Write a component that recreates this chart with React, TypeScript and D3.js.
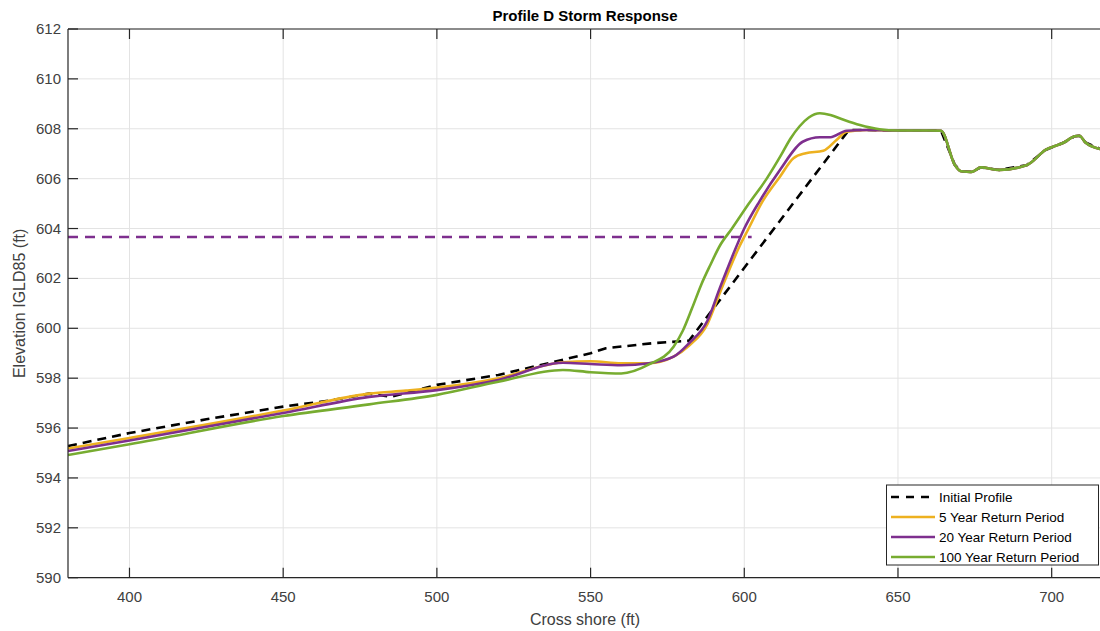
import React from "react";
import * as d3 from "d3";

const xTicks = [400, 450, 500, 550, 600, 650, 700];
const yTicks = [590, 592, 594, 596, 598, 600, 602, 604, 606, 608, 610, 612];

const tailX = [640, 650, 660, 664, 668.5, 670.5, 674, 677, 683, 692, 698, 704, 707.5, 709, 711, 716];
const tailY = [607.95, 607.93, 607.93, 607.92, 606.55, 606.3, 606.27, 606.45, 606.35, 606.55, 607.15, 607.45, 607.7, 607.72, 607.45, 607.18];

const initialX = [380, 400, 425, 450, 465, 478, 485, 500, 520, 550, 555, 570, 582, 634];
const initialY = [595.28, 595.8, 596.35, 596.86, 597.1, 597.38, 597.25, 597.73, 598.13, 599.0, 599.2, 599.4, 599.5, 607.95];

const fiveX = [380, 400, 450, 478, 490, 500, 520, 541, 550, 560, 569, 577, 582, 588, 592, 598.5, 601, 606, 611.6, 616, 620, 625.7, 630, 633.3];
const fiveY = [595.18, 595.6, 596.7, 597.38, 597.5, 597.62, 598.0, 598.64, 598.68, 598.6, 598.6, 598.86, 599.3, 600.17, 601.4, 603.3, 603.9, 605.1, 606.08, 606.82, 607.02, 607.12, 607.55, 607.88];

const twentyX = [380, 400, 450, 478, 500, 520, 541, 550, 560, 569, 577, 582, 588, 592, 596, 600, 605, 611.6, 619, 624.6, 628, 633.3];
const twentyY = [595.08, 595.5, 596.6, 597.25, 597.52, 597.93, 598.62, 598.57, 598.52, 598.6, 598.86, 599.4, 600.3, 601.6, 602.85, 604.0, 605.1, 606.35, 607.48, 607.66, 607.66, 607.92];

const hundredX = [380, 400, 450, 478, 500, 520, 541, 550, 560, 569, 577, 580, 583, 586, 589, 592, 596, 601.5, 607.3, 612, 615, 618, 621, 624.6, 628, 631, 637.6, 644];
const hundredY = [594.92, 595.35, 596.48, 596.95, 597.33, 597.86, 598.33, 598.24, 598.19, 598.55, 599.26, 599.9, 600.8, 601.75, 602.55, 603.3, 604.0, 605.0, 606.0, 606.95, 607.6, 608.1, 608.45, 608.62, 608.55, 608.42, 608.15, 607.98];

const waterLevelX = [380, 602.4];
const waterLevelY = 603.66;

const legendLabels = ["Initial Profile", "5 Year Return Period", "20 Year Return Period", "100 Year Return Period"];
const seriesColors = ["#000000", "#EDB120", "#7E2F8E", "#77AC30"];

const W = 1100, H = 631;
const left = 68, right = 1102, top = 29, bottom = 577.7;
const font = "'Liberation Sans', Arial, Helvetica, sans-serif";

function pts(xs: number[], ys: number[]) {
  return xs.map((x, i) => [x, ys[i]] as [number, number]);
}

export default function App() {
  const x = d3.scaleLinear().domain([380, 380 + (right - left) / 3.074]).range([left, right]);
  const y = d3.scaleLinear().domain([590, 612]).range([bottom, top]);

  const smooth = d3.line<[number, number]>().x(d => x(d[0])).y(d => y(d[1])).curve(d3.curveMonotoneX);
  const straight = d3.line<[number, number]>().x(d => x(d[0])).y(d => y(d[1]));

  const tail = pts(tailX, tailY);
  const initial = pts(initialX, initialY).concat(tail);
  const five = pts(fiveX, fiveY).concat(tail);
  const twenty = pts(twentyX, twentyY).concat(tail);
  const hundred = pts(hundredX, hundredY).concat(tail.filter(p => p[0] >= 650));

  const axisColor = "#262626";
  const textColor = "#404040";

  return (
    <svg width={W} height={H} style={{ position: "absolute", left: 0, top: 0, background: "#fff" }}>
      <defs>
        <clipPath id="plot">
          <rect x={left} y={top} width={right - left} height={bottom - top} />
        </clipPath>
      </defs>
      <rect x={0} y={0} width={W} height={H} fill="#fff" />
      {xTicks.map(t => (
        <line key={"gx" + t} x1={x(t)} x2={x(t)} y1={top} y2={bottom} stroke="#e3e3e3" strokeWidth={1} />
      ))}
      {yTicks.map(t => (
        <line key={"gy" + t} x1={left} x2={right} y1={y(t)} y2={y(t)} stroke="#e3e3e3" strokeWidth={1} />
      ))}
      <g clipPath="url(#plot)" fill="none" strokeLinejoin="round">
        <line x1={x(waterLevelX[0])} x2={x(waterLevelX[1])} y1={y(waterLevelY)} y2={y(waterLevelY)}
          stroke="#7E2F8E" strokeWidth={2.6} strokeDasharray="10,7" />
        <path d={straight(initial) || ""} stroke="#000" strokeWidth={2.6} strokeDasharray="9,6" />
        <path d={smooth(five) || ""} stroke={seriesColors[1]} strokeWidth={2.6} />
        <path d={smooth(twenty) || ""} stroke={seriesColors[2]} strokeWidth={2.6} />
        <path d={smooth(hundred) || ""} stroke={seriesColors[3]} strokeWidth={2.6} />
      </g>
      <line x1={left} x2={right} y1={top} y2={top} stroke={axisColor} strokeWidth={1.2} />
      <line x1={left} x2={right} y1={bottom} y2={bottom} stroke={axisColor} strokeWidth={1.2} />
      <line x1={left} x2={left} y1={top} y2={bottom} stroke={axisColor} strokeWidth={1.2} />
      {xTicks.map(t => (
        <g key={"tx" + t}>
          <line x1={x(t)} x2={x(t)} y1={bottom} y2={bottom - 10} stroke={axisColor} strokeWidth={1.2} />
          <line x1={x(t)} x2={x(t)} y1={top} y2={top + 10} stroke={axisColor} strokeWidth={1.2} />
          <text x={x(t)} y={bottom + 24} textAnchor="middle" fontFamily={font} fontSize={15} fill={textColor}>{t}</text>
        </g>
      ))}
      {yTicks.map(t => (
        <g key={"ty" + t}>
          <line x1={left} x2={left + 10} y1={y(t)} y2={y(t)} stroke={axisColor} strokeWidth={1.2} />
          <text x={left - 7} y={y(t) + 5} textAnchor="end" fontFamily={font} fontSize={15} fill={textColor}>{t}</text>
        </g>
      ))}
      <text x={585} y={21} textAnchor="middle" fontFamily={font} fontSize={15} fontWeight="bold" fill="#000">Profile D Storm Response</text>
      <text x={585} y={625} textAnchor="middle" fontFamily={font} fontSize={16} fill={textColor}>Cross shore (ft)</text>
      <text transform={`translate(25,${(top + bottom) / 2}) rotate(-90)`} textAnchor="middle" fontFamily={font} fontSize={16} fill={textColor}>Elevation IGLD85 (ft)</text>
      <g>
        <rect x={886.5} y={485} width={212} height={80} fill="#fff" stroke={axisColor} strokeWidth={1} />
        {legendLabels.map((lab, i) => {
          const cy = 497 + i * 20;
          return (
            <g key={lab}>
              <line x1={891} x2={935} y1={cy} y2={cy} stroke={seriesColors[i]} strokeWidth={2.6}
                strokeDasharray={i === 0 ? "8,7" : undefined} />
              <text x={939} y={cy + 5} fontFamily={font} fontSize={13.5} fill="#000">{lab}</text>
            </g>
          );
        })}
      </g>
    </svg>
  );
}
